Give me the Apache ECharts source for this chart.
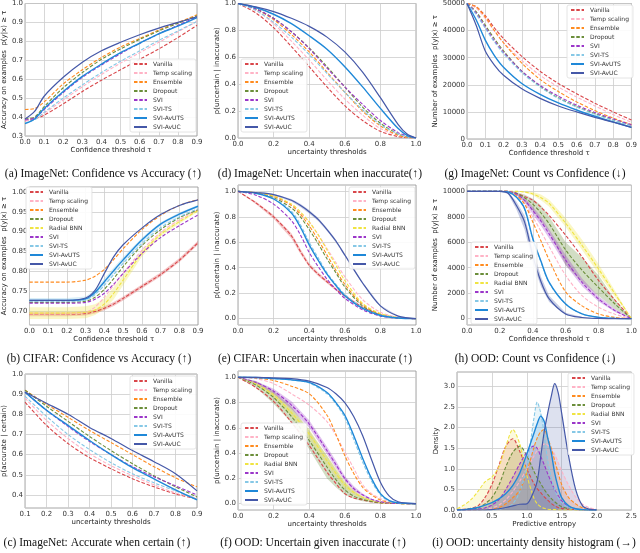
<!DOCTYPE html>
<html>
<head>
<meta charset="utf-8">
<title>Uncertainty calibration panels</title>
<script src="https://cdn.jsdelivr.net/npm/echarts@6/dist/echarts.min.js"></script>
<style>
  html, body { margin: 0; padding: 0; background: #fff; }
  #chart { width: 640px; height: 553px; }
</style>
</head>
<body>
<div id="chart"></div>
<script>
// ---------- data ----------

// tick labels
const ticks0to09 = [0, 0.1, 0.2, 0.3, 0.4, 0.5, 0.6, 0.7, 0.8, 0.9];
const ticks0to1 = [0, 0.2, 0.4, 0.6, 0.8, 1.0];
const ticks01to09 = [0.1, 0.2, 0.3, 0.4, 0.5, 0.6, 0.7, 0.8, 0.9];
const ticksAccA = [0.3, 0.4, 0.5, 0.6, 0.7, 0.8, 0.9, 1.0];
const ticksAccB = [0.70, 0.75, 0.80, 0.85, 0.90, 0.95, 1.00];
const ticksAccC = [0.4, 0.5, 0.6, 0.7, 0.8, 0.9, 1.0];
const ticksCountG = [0, 10000, 20000, 30000, 40000, 50000];
const ticksCountH = [0, 2000, 4000, 6000, 8000, 10000];
const ticksEntropy = [0, 0.5, 1.0, 1.5, 2.0, 2.5];
const ticksDensity = [0, 0.5, 1.0, 1.5, 2.0, 2.5, 3.0];

// (a) ImageNet: confidence vs accuracy
const aX = [0, 0.05, 0.1, 0.2, 0.3, 0.4, 0.5, 0.6, 0.7, 0.8, 0.9];
const aVanilla = [0.38, 0.39, 0.41, 0.47, 0.535, 0.595, 0.65, 0.705, 0.76, 0.82, 0.885];
const aTemp = [0.38, 0.39, 0.42, 0.49, 0.56, 0.625, 0.685, 0.74, 0.795, 0.85, 0.905];
const aEnsemble = [0.44, 0.445, 0.48, 0.575, 0.65, 0.715, 0.77, 0.815, 0.86, 0.90, 0.94];
const aDropout = [0.39, 0.40, 0.455, 0.555, 0.635, 0.705, 0.76, 0.81, 0.855, 0.895, 0.935];
const aSvi = [0.385, 0.395, 0.44, 0.53, 0.61, 0.675, 0.735, 0.79, 0.84, 0.885, 0.93];
const aSviTs = [0.37, 0.385, 0.425, 0.50, 0.57, 0.635, 0.695, 0.75, 0.805, 0.855, 0.905];
const aAvuts = [0.365, 0.39, 0.445, 0.535, 0.615, 0.68, 0.74, 0.79, 0.84, 0.88, 0.925];
const aAvuc = [0.39, 0.43, 0.51, 0.61, 0.69, 0.75, 0.795, 0.835, 0.87, 0.90, 0.93];

// (d) ImageNet: uncertain when inaccurate
const dX = [0, 0.1, 0.2, 0.3, 0.4, 0.5, 0.6, 0.7, 0.8, 0.9, 0.95, 1.0];
const dVanilla = [1, 0.93, 0.82, 0.68, 0.53, 0.38, 0.24, 0.13, 0.05, 0.01, 0.003, 0];
const dTemp = [1, 0.95, 0.85, 0.72, 0.58, 0.43, 0.29, 0.17, 0.07, 0.02, 0.005, 0];
const dEnsemble = [1, 0.96, 0.88, 0.77, 0.64, 0.49, 0.34, 0.20, 0.09, 0.02, 0.005, 0];
const dDropout = [1, 0.96, 0.89, 0.79, 0.67, 0.53, 0.38, 0.23, 0.11, 0.03, 0.01, 0];
const dSvi = [1, 0.96, 0.89, 0.79, 0.665, 0.52, 0.38, 0.25, 0.13, 0.04, 0.015, 0];
const dSviTs = [1, 0.95, 0.86, 0.75, 0.62, 0.48, 0.34, 0.21, 0.10, 0.03, 0.01, 0];
const dAvuts = [1, 0.97, 0.92, 0.85, 0.76, 0.66, 0.53, 0.38, 0.22, 0.07, 0.02, 0];
const dAvuc = [1, 0.975, 0.94, 0.89, 0.83, 0.75, 0.64, 0.49, 0.30, 0.10, 0.03, 0];

// (g) ImageNet: count vs confidence
const gX = [0, 0.05, 0.1, 0.15, 0.2, 0.3, 0.4, 0.5, 0.6, 0.7, 0.8, 0.9];
const gVanilla = [50000, 48800, 45500, 41000, 37000, 30500, 25000, 20500, 16700, 13200, 10000, 7000];
const gTemp = [50000, 48300, 44500, 39800, 35500, 29000, 23500, 19200, 15500, 12200, 9000, 6200];
const gEnsemble = [50000, 48800, 45000, 40000, 35500, 28000, 22000, 17500, 13700, 10500, 7700, 5300];
const gDropout = [50000, 47000, 42000, 37000, 32500, 25000, 19500, 15200, 12000, 9400, 7000, 5000];
const gSvi = [50000, 46500, 41300, 36300, 32000, 25000, 19800, 15800, 12500, 9800, 7400, 5200];
const gSviTs = [50000, 46000, 40800, 35800, 31500, 24500, 19200, 15000, 11800, 9100, 6900, 4900];
const gAvuts = [50000, 44000, 36500, 30800, 26500, 20500, 16500, 13300, 10700, 8400, 6300, 4300];
const gAvuc = [50000, 42000, 32500, 27300, 23500, 18500, 15000, 12200, 10000, 8000, 6200, 4300];

// (b) CIFAR: confidence vs accuracy
const bX = [0, 0.1, 0.2, 0.3, 0.35, 0.4, 0.45, 0.5, 0.6, 0.7, 0.8, 0.9];
const bVanilla = [0.692, 0.692, 0.692, 0.694, 0.699, 0.707, 0.718, 0.732, 0.762, 0.792, 0.828, 0.872];
const bTemp = [0.693, 0.693, 0.693, 0.697, 0.71, 0.735, 0.765, 0.795, 0.853, 0.898, 0.93, 0.955];
const bEnsemble = [0.773, 0.773, 0.773, 0.778, 0.788, 0.805, 0.83, 0.857, 0.905, 0.941, 0.966, 0.981];
const bDropout = [0.722, 0.722, 0.722, 0.725, 0.735, 0.755, 0.782, 0.812, 0.865, 0.905, 0.935, 0.955];
const bRadial = [0.695, 0.695, 0.695, 0.697, 0.703, 0.718, 0.745, 0.778, 0.845, 0.893, 0.925, 0.953];
const bSvi = [0.72, 0.72, 0.72, 0.722, 0.73, 0.745, 0.768, 0.795, 0.845, 0.885, 0.915, 0.942];
const bSviTs = [0.725, 0.725, 0.725, 0.728, 0.742, 0.765, 0.792, 0.82, 0.87, 0.91, 0.937, 0.958];
const bAvuts = [0.727, 0.727, 0.727, 0.731, 0.747, 0.774, 0.802, 0.829, 0.879, 0.919, 0.944, 0.964];
const bAvuc = [0.727, 0.727, 0.727, 0.733, 0.752, 0.795, 0.837, 0.867, 0.909, 0.943, 0.966, 0.98];
const bVanillaLo = [0.687, 0.687, 0.687, 0.689, 0.694, 0.702, 0.713, 0.727, 0.757, 0.787, 0.823, 0.867];
const bVanillaHi = [0.697, 0.697, 0.697, 0.699, 0.704, 0.712, 0.723, 0.737, 0.767, 0.797, 0.833, 0.877];
const bRadialLo = [0.68, 0.68, 0.68, 0.682, 0.69, 0.705, 0.73, 0.765, 0.837, 0.888, 0.92, 0.95];
const bRadialHi = [0.71, 0.71, 0.71, 0.712, 0.717, 0.732, 0.76, 0.79, 0.853, 0.898, 0.93, 0.956];
const bAvutsLo = [0.721, 0.721, 0.721, 0.725, 0.74, 0.766, 0.794, 0.822, 0.873, 0.914, 0.94, 0.961];
const bAvutsHi = [0.733, 0.733, 0.733, 0.737, 0.754, 0.782, 0.81, 0.836, 0.885, 0.924, 0.948, 0.967];

// (e) CIFAR: uncertain when inaccurate
const eX = [0, 0.1, 0.2, 0.3, 0.35, 0.4, 0.45, 0.5, 0.55, 0.6, 0.7, 0.8, 0.9, 1.0];
const eVanilla = [1.0, 0.91, 0.80, 0.65, 0.53, 0.42, 0.35, 0.29, 0.23, 0.18, 0.09, 0.03, 0.005, 0];
const eTemp = [1.0, 0.985, 0.96, 0.89, 0.83, 0.76, 0.66, 0.55, 0.44, 0.33, 0.15, 0.05, 0.01, 0];
const eEnsemble = [1.0, 0.99, 0.96, 0.89, 0.82, 0.73, 0.62, 0.50, 0.38, 0.27, 0.11, 0.035, 0.007, 0];
const eDropout = [1.0, 0.985, 0.95, 0.87, 0.80, 0.70, 0.59, 0.47, 0.36, 0.25, 0.10, 0.03, 0.005, 0];
const eRadial = [1.0, 0.99, 0.965, 0.90, 0.84, 0.76, 0.66, 0.54, 0.42, 0.30, 0.12, 0.04, 0.008, 0];
const eSvi = [1.0, 0.97, 0.90, 0.77, 0.66, 0.52, 0.41, 0.31, 0.23, 0.16, 0.07, 0.02, 0.005, 0];
const eSviTs = [1.0, 0.985, 0.945, 0.845, 0.74, 0.60, 0.48, 0.36, 0.27, 0.19, 0.085, 0.028, 0.006, 0];
const eAvuts = [1.0, 0.985, 0.94, 0.83, 0.72, 0.58, 0.46, 0.35, 0.26, 0.18, 0.08, 0.025, 0.005, 0];
const eAvuc = [1.0, 0.99, 0.975, 0.93, 0.89, 0.84, 0.78, 0.70, 0.61, 0.50, 0.28, 0.10, 0.02, 0];
const eVanillaLo = [1.0, 0.90, 0.785, 0.63, 0.51, 0.405, 0.335, 0.278, 0.22, 0.172, 0.085, 0.027, 0.004, 0];
const eVanillaHi = [1.0, 0.92, 0.815, 0.67, 0.55, 0.435, 0.365, 0.302, 0.24, 0.188, 0.095, 0.033, 0.006, 0];
const eAvucLo = [1.0, 0.985, 0.968, 0.92, 0.878, 0.827, 0.767, 0.688, 0.598, 0.49, 0.272, 0.095, 0.018, 0];
const eAvucHi = [1.0, 0.995, 0.982, 0.94, 0.902, 0.853, 0.793, 0.712, 0.622, 0.51, 0.288, 0.105, 0.022, 0];

// (h) OOD: count vs confidence
const hX = [0, 0.2, 0.25, 0.3, 0.35, 0.4, 0.45, 0.5, 0.6, 0.7, 0.8, 0.9, 1.0];
const hVanilla = [10000, 10000, 10000, 9850, 9600, 9300, 8750, 8100, 6550, 4850, 3000, 1450, 0];
const hTemp = [10000, 10000, 9950, 9700, 9050, 8000, 6850, 5650, 3400, 1800, 900, 350, 0];
const hEnsemble = [10000, 10000, 9950, 9700, 9000, 7600, 6100, 4600, 2100, 1000, 370, 90, 0];
const hDropout = [10000, 10000, 10000, 9850, 9500, 9000, 8300, 7450, 5400, 3800, 2450, 1150, 0];
const hRadial = [10000, 10000, 10000, 10000, 9950, 9800, 9500, 9050, 7500, 5750, 3900, 1950, 0];
const hSvi = [10000, 10000, 10000, 9800, 9300, 8500, 7650, 6650, 4600, 2850, 1550, 630, 0];
const hSviTs = [10000, 10000, 9950, 9550, 8600, 6250, 4450, 2800, 1150, 370, 100, 20, 0];
const hAvuts = [10000, 10000, 9950, 9550, 8650, 6300, 4500, 2850, 1150, 370, 100, 20, 0];
const hAvuc = [10000, 10000, 9850, 8900, 7600, 4950, 2900, 1550, 370, 90, 20, 5, 0];
const hDropoutLo = [10000, 10000, 10000, 9750, 9200, 8500, 7700, 6800, 4200, 2850, 1800, 750, 0];
const hDropoutHi = [10000, 10000, 10000, 9950, 9750, 9420, 8900, 8000, 6000, 4800, 3400, 1500, 0];
const hRadialLo = [10000, 10000, 10000, 10000, 9900, 9700, 9300, 8800, 7200, 5400, 3500, 1700, 0];
const hRadialHi = [10000, 10000, 10000, 10000, 10000, 9950, 9750, 9350, 7900, 6200, 4300, 2200, 0];
const hSviLo = [10000, 10000, 10000, 9700, 9100, 8200, 7300, 6300, 4200, 2550, 1350, 520, 0];
const hSviHi = [10000, 10000, 10000, 9900, 9500, 8800, 8000, 7000, 5000, 3150, 1750, 750, 0];
const hAvucLo = [10000, 10000, 9800, 8600, 7000, 4400, 2500, 1300, 280, 60, 15, 5, 0];
const hAvucHi = [10000, 10000, 9950, 9200, 8100, 5500, 3300, 1800, 460, 120, 25, 5, 0];

// (c) ImageNet: accurate when certain
const cX = [0.1, 0.2, 0.3, 0.4, 0.5, 0.6, 0.7, 0.8, 0.9];
const cVanilla = [0.86, 0.745, 0.655, 0.585, 0.53, 0.48, 0.44, 0.405, 0.38];
const cTemp = [0.88, 0.77, 0.68, 0.605, 0.545, 0.495, 0.45, 0.41, 0.385];
const cEnsemble = [0.92, 0.85, 0.785, 0.72, 0.66, 0.60, 0.54, 0.485, 0.44];
const cDropout = [0.92, 0.84, 0.765, 0.69, 0.62, 0.555, 0.495, 0.44, 0.39];
const cSvi = [0.91, 0.82, 0.74, 0.665, 0.60, 0.54, 0.49, 0.445, 0.40];
const cSviTs = [0.89, 0.79, 0.70, 0.625, 0.56, 0.505, 0.46, 0.42, 0.38];
const cAvuts = [0.91, 0.82, 0.745, 0.67, 0.60, 0.535, 0.48, 0.425, 0.375];
const cAvuc = [0.91, 0.855, 0.80, 0.735, 0.68, 0.62, 0.565, 0.505, 0.42];

// (f) OOD: uncertain given inaccurate
const fX = [0, 0.1, 0.2, 0.3, 0.4, 0.5, 0.55, 0.6, 0.65, 0.7, 0.75, 0.8, 0.85, 0.9, 1.0];
const fVanilla = [1, 0.92, 0.81, 0.645, 0.46, 0.25, 0.16, 0.08, 0.045, 0.03, 0.015, 0.006, 0.002, 0.001, 0];
const fTemp = [1, 0.99, 0.95, 0.87, 0.78, 0.65, 0.54, 0.41, 0.28, 0.15, 0.08, 0.04, 0.015, 0.005, 0];
const fEnsemble = [1, 0.995, 0.975, 0.93, 0.87, 0.70, 0.55, 0.38, 0.24, 0.13, 0.07, 0.03, 0.01, 0.004, 0];
const fDropout = [1, 0.94, 0.84, 0.69, 0.50, 0.29, 0.19, 0.11, 0.06, 0.035, 0.018, 0.008, 0.003, 0.001, 0];
const fRadial = [1, 0.95, 0.86, 0.72, 0.55, 0.34, 0.24, 0.15, 0.09, 0.05, 0.025, 0.01, 0.004, 0.001, 0];
const fSvi = [1, 0.96, 0.89, 0.78, 0.63, 0.42, 0.31, 0.20, 0.12, 0.07, 0.035, 0.015, 0.005, 0.002, 0];
const fSviTs = [1, 0.998, 0.99, 0.98, 0.955, 0.87, 0.79, 0.68, 0.51, 0.33, 0.18, 0.07, 0.02, 0.006, 0];
const fAvuts = [1, 0.998, 0.99, 0.98, 0.96, 0.88, 0.80, 0.70, 0.54, 0.36, 0.20, 0.08, 0.025, 0.007, 0];
const fAvuc = [1, 1, 0.995, 0.99, 0.97, 0.92, 0.87, 0.80, 0.69, 0.54, 0.35, 0.17, 0.06, 0.015, 0];
const fDropoutLo = [1, 0.92, 0.79, 0.64, 0.43, 0.20, 0.13, 0.07, 0.04, 0.02, 0.01, 0.005, 0.002, 0.001, 0];
const fDropoutHi = [1, 0.97, 0.89, 0.77, 0.58, 0.38, 0.27, 0.17, 0.10, 0.055, 0.03, 0.012, 0.005, 0.002, 0];
const fRadialLo = [1, 0.94, 0.84, 0.69, 0.51, 0.30, 0.21, 0.12, 0.07, 0.04, 0.02, 0.008, 0.003, 0.001, 0];
const fRadialHi = [1, 0.96, 0.88, 0.75, 0.59, 0.38, 0.28, 0.18, 0.11, 0.06, 0.03, 0.012, 0.005, 0.002, 0];
const fSviLo = [1, 0.95, 0.87, 0.75, 0.60, 0.39, 0.28, 0.18, 0.10, 0.06, 0.03, 0.012, 0.004, 0.002, 0];
const fSviHi = [1, 0.97, 0.91, 0.81, 0.66, 0.45, 0.34, 0.22, 0.14, 0.08, 0.04, 0.018, 0.006, 0.003, 0];

// (i) OOD: predictive entropy density
const iX = [0, 0.1, 0.2, 0.3, 0.4, 0.5, 0.6, 0.7, 0.8, 0.9, 1.0, 1.1, 1.15, 1.2, 1.25, 1.3, 1.35, 1.4, 1.45, 1.5, 1.6, 1.7, 1.8, 1.9, 2.0];
const iVanilla = [0.01, 0.02, 0.04, 0.1, 0.3, 0.62, 1.08, 1.55, 1.73, 1.42, 1.0, 0.65, 0.52, 0.42, 0.32, 0.24, 0.16, 0.1, 0.06, 0.04, 0.02, 0.01, 0, 0, 0];
const iTemp = [0, 0, 0, 0.01, 0.02, 0.05, 0.12, 0.25, 0.45, 0.7, 1.0, 1.3, 1.45, 1.55, 1.6, 1.58, 1.5, 1.35, 1.15, 0.95, 0.6, 0.32, 0.14, 0.05, 0.02];
const iEnsemble = [0, 0, 0, 0, 0.01, 0.02, 0.06, 0.15, 0.3, 0.48, 0.92, 1.5, 1.75, 1.9, 1.95, 1.75, 1.5, 1.2, 0.9, 0.62, 0.3, 0.15, 0.05, 0.01, 0];
const iDropout = [0, 0.01, 0.02, 0.05, 0.15, 0.3, 0.6, 1.05, 1.4, 1.55, 1.32, 0.95, 0.78, 0.64, 0.5, 0.38, 0.28, 0.2, 0.13, 0.08, 0.03, 0.01, 0, 0, 0];
const iRadial = [0.03, 0.12, 0.25, 0.45, 0.68, 0.8, 1.05, 1.55, 1.95, 1.6, 0.85, 0.3, 0.15, 0.08, 0.04, 0.02, 0.01, 0.01, 0, 0, 0, 0, 0, 0, 0];
const iSvi = [0, 0, 0.01, 0.02, 0.05, 0.12, 0.25, 0.5, 0.8, 1.12, 1.4, 1.55, 1.5, 1.3, 1.1, 0.88, 0.68, 0.5, 0.35, 0.22, 0.08, 0.02, 0.01, 0, 0];
const iSviTs = [0, 0, 0, 0, 0, 0, 0.02, 0.06, 0.15, 0.45, 1.05, 2.2, 2.62, 2.35, 1.85, 1.2, 0.8, 0.5, 0.3, 0.18, 0.06, 0.02, 0, 0, 0];
const iAvuts = [0, 0.01, 0.03, 0.06, 0.12, 0.18, 0.27, 0.4, 0.6, 0.9, 1.36, 1.85, 2.1, 2.28, 2.15, 1.75, 1.4, 0.9, 0.55, 0.3, 0.1, 0.03, 0.01, 0, 0];
const iAvuc = [0, 0, 0, 0, 0, 0.01, 0.03, 0.06, 0.1, 0.14, 0.15, 0.45, 0.7, 1.3, 1.9, 2.35, 2.75, 3.07, 2.85, 2.35, 1.3, 0.5, 0.1, 0.02, 0];

const captions = [
  '(a) ImageNet: Confidence vs Accuracy (↑)',
  '(d) ImageNet: Uncertain when inaccurate(↑)',
  '(g) ImageNet: Count vs Confidence (↓)',
  '(b) CIFAR: Confidence vs Accuracy (↑)',
  '(e) CIFAR: Uncertain when inaccurate (↑)',
  '(h) OOD: Count vs Confidence (↓)',
  '(c) ImageNet: Accurate when certain (↑)',
  '(f) OOD: Uncertain given inaccurate (↑)',
  '(i) OOD: uncertainty density histogram (→)'
];

// ---------- styles ----------
const methodStyle = {
  'Vanilla':      { color: '#d9464a', dash: [3.5, 1.8], width: 1.1 },
  'Temp scaling': { color: '#ffb3c6', dash: [3.5, 1.8], width: 1.1 },
  'Ensemble':     { color: '#ff8b1f', dash: [3.5, 1.8], width: 1.1 },
  'Dropout':      { color: '#6b8e3a', dash: [3.5, 1.8], width: 1.1 },
  'Radial BNN':   { color: '#f0e442', dash: [3.5, 1.8], width: 1.1 },
  'SVI':          { color: '#9b36c9', dash: [3.5, 1.8], width: 1.1 },
  'SVI-TS':       { color: '#86c8e6', dash: [3.5, 1.8], width: 1.1 },
  'SVI-AvUTS':    { color: '#1f88d8', dash: 'solid', width: 1.4 },
  'SVI-AvUC':     { color: '#4558a8', dash: 'solid', width: 1.2 }
};
const FONT = 'DejaVu Sans';

const panels = [
  { grid: { left: 18, top: 3, width: 179, height: 133 },
    x: [0, 0.9], xt: ticks0to09, xd: 1, xname: 'Confidence threshold τ', xgap: 11,
    y: [0.3, 1.0], yt: ticksAccA, yd: 1, yname: 'Accuracy on examples  p(y|x) ≥ τ', ygap: 11,
    legend: { left: 130, top: 59 }, cap: [103, 174], xs: aX,
    lines: [['Vanilla', aVanilla], ['Temp scaling', aTemp], ['Ensemble', aEnsemble], ['Dropout', aDropout],
            ['SVI', aSvi], ['SVI-TS', aSviTs], ['SVI-AvUTS', aAvuts], ['SVI-AvUC', aAvuc]], bands: [] },
  { grid: { left: 238, top: 3, width: 178, height: 135 },
    x: [0, 1], xt: ticks0to1, xd: 1, xname: 'uncertainty thresholds', xgap: 9,
    y: [0, 1], yt: ticks0to1, yd: 1, yname: 'p(uncertain | inaccurate)', ygap: 14,
    legend: { left: 241, top: 59 }, cap: [320, 174], xs: dX,
    lines: [['Vanilla', dVanilla], ['Temp scaling', dTemp], ['Ensemble', dEnsemble], ['Dropout', dDropout],
            ['SVI', dSvi], ['SVI-TS', dSviTs], ['SVI-AvUTS', dAvuts], ['SVI-AvUC', dAvuc]], bands: [] },
  { grid: { left: 467, top: 2, width: 167, height: 137 },
    x: [0, 0.9], xt: ticks0to09, xd: 1, xname: 'Confidence threshold τ', xgap: 8,
    y: [0, 50000], yt: ticksCountG, yd: 0, yname: 'Number of examples  p(y|x) ≥ τ', ygap: 24,
    legend: { left: 567, top: 5 }, cap: [535, 174], xs: gX,
    lines: [['Vanilla', gVanilla], ['Temp scaling', gTemp], ['Ensemble', gEnsemble], ['Dropout', gDropout],
            ['SVI', gSvi], ['SVI-TS', gSviTs], ['SVI-AvUTS', gAvuts], ['SVI-AvUC', gAvuc]], bands: [] },
  { grid: { left: 23, top: 187, width: 175, height: 138 },
    x: [0, 0.9], xt: ticks0to09, xd: 1, xname: 'Confidence threshold τ', xgap: 8,
    y: [0.665, 1.0125], yt: ticksAccB, yd: 2, yname: 'Accuracy on examples  p(y|x) ≥ τ', ygap: 17,
    legend: { left: 26, top: 187 }, cap: [99, 359], xs: bX,
    lines: [['Vanilla', bVanilla], ['Temp scaling', bTemp], ['Ensemble', bEnsemble], ['Dropout', bDropout],
            ['Radial BNN', bRadial], ['SVI', bSvi], ['SVI-TS', bSviTs], ['SVI-AvUTS', bAvuts], ['SVI-AvUC', bAvuc]],
    bands: [['Vanilla', bVanillaLo, bVanillaHi], ['Radial BNN', bRadialLo, bRadialHi], ['SVI-TS', bAvutsLo, bAvutsHi]] },
  { grid: { left: 238, top: 185, width: 178, height: 140 },
    x: [0, 1], xt: ticks0to1, xd: 1, xname: 'uncertainty thresholds', xgap: 8,
    y: [-0.05, 1.05], yt: ticks0to1, yd: 1, yname: 'p(uncertain | inaccurate)', ygap: 15,
    legend: { left: 349, top: 187 }, cap: [315, 359], xs: eX,
    lines: [['Vanilla', eVanilla], ['Temp scaling', eTemp], ['Ensemble', eEnsemble], ['Dropout', eDropout],
            ['Radial BNN', eRadial], ['SVI', eSvi], ['SVI-TS', eSviTs], ['SVI-AvUTS', eAvuts], ['SVI-AvUC', eAvuc]],
    bands: [['Vanilla', eVanillaLo, eVanillaHi], ['SVI-AvUC', eAvucLo, eAvucHi]] },
  { grid: { left: 467, top: 185, width: 167, height: 140 },
    x: [0, 1], xt: ticks0to1, xd: 1, xname: 'Confidence threshold τ', xgap: 8,
    y: [-500, 10500], yt: ticksCountH, yd: 0, yname: 'Number of examples  p(y|x) ≥ τ', ygap: 25,
    legend: { left: 471, top: 242 }, cap: [535, 359], xs: hX,
    lines: [['Vanilla', hVanilla], ['Temp scaling', hTemp], ['Ensemble', hEnsemble], ['Dropout', hDropout],
            ['Radial BNN', hRadial], ['SVI', hSvi], ['SVI-TS', hSviTs], ['SVI-AvUTS', hAvuts], ['SVI-AvUC', hAvuc]],
    bands: [['Dropout', hDropoutLo, hDropoutHi], ['Radial BNN', hRadialLo, hRadialHi],
            ['SVI', hSviLo, hSviHi], ['SVI-AvUC', hAvucLo, hAvucHi]] },
  { grid: { left: 21, top: 374, width: 176, height: 134 },
    x: [0.1, 0.9], xt: ticks01to09, xd: 1, xname: 'uncertainty thresholds', xgap: 11,
    y: [0.335, 1.0], yt: ticksAccC, yd: 1, yname: 'p(accurate | certain)', ygap: 16,
    legend: { left: 130, top: 376 }, cap: [97, 543], xs: cX,
    lines: [['Vanilla', cVanilla], ['Temp scaling', cTemp], ['Ensemble', cEnsemble], ['Dropout', cDropout],
            ['SVI', cSvi], ['SVI-TS', cSviTs], ['SVI-AvUTS', cAvuts], ['SVI-AvUC', cAvuc]], bands: [] },
  { grid: { left: 238, top: 371, width: 178, height: 139 },
    x: [0, 1], xt: ticks0to1, xd: 1, xname: 'uncertainty thresholds', xgap: 8,
    y: [-0.05, 1.05], yt: ticks0to1, yd: 1, yname: 'p(uncertain | inaccurate)', ygap: 15,
    legend: { left: 241, top: 423 }, cap: [313, 543], xs: fX,
    lines: [['Vanilla', fVanilla], ['Temp scaling', fTemp], ['Ensemble', fEnsemble], ['Dropout', fDropout],
            ['Radial BNN', fRadial], ['SVI', fSvi], ['SVI-TS', fSviTs], ['SVI-AvUTS', fAvuts], ['SVI-AvUC', fAvuc]],
    bands: [['Dropout', fDropoutLo, fDropoutHi], ['Radial BNN', fRadialLo, fRadialHi], ['SVI', fSviLo, fSviHi]] },
  { grid: { left: 457, top: 372, width: 177, height: 138 },
    x: [0, 2.5], xt: ticksEntropy, xd: 1, xname: 'Predictive entropy', xgap: 10,
    y: [0, 3.35], yt: ticksDensity, yd: 1, yname: 'Density', ygap: 14,
    legend: { left: 568, top: 373 }, cap: [534, 543], xs: iX, fill: true,
    lines: [['Vanilla', iVanilla], ['Temp scaling', iTemp], ['Ensemble', iEnsemble], ['Dropout', iDropout],
            ['Radial BNN', iRadial], ['SVI', iSvi], ['SVI-TS', iSviTs], ['SVI-AvUTS', iAvuts], ['SVI-AvUC', iAvuc]], bands: [] }
];

// ---------- build option ----------
const grids = [], xAxes = [], yAxes = [], series = [], legends = [], graphics = [];

function axisCfg(i, range, ticks, digits, name, gap, isY) {
  return {
    type: 'value', gridIndex: i, min: range[0], max: range[1],
    name: name, nameLocation: 'middle', nameGap: gap,
    nameTextStyle: { fontSize: 7, color: '#222', fontFamily: FONT },
    axisLine: { show: false },
    axisTick: { show: false, customValues: ticks },
    axisLabel: { customValues: ticks, fontSize: 7, color: '#333', fontFamily: FONT, margin: isY ? 2 : 3,
                 formatter: v => Number(v).toFixed(digits) },
    splitLine: { show: true, lineStyle: { color: '#cdcdcd', width: 0.8 } }
  };
}

panels.forEach((p, i) => {
  grids.push(Object.assign({ show: true, borderColor: '#8f8f8f', borderWidth: 0.8, backgroundColor: '#fff' }, p.grid));
  xAxes.push(axisCfg(i, p.x, p.xt, p.xd, p.xname, p.xgap, false));
  yAxes.push(axisCfg(i, p.y, p.yt, p.yd, p.yname, p.ygap, true));

  // shaded spread bands, drawn as one polygon through the axes' scales
  p.bands.forEach(([name, lo, hi]) => {
    const col = methodStyle[name].color;
    const xs = p.xs;
    series.push({
      type: 'custom', xAxisIndex: i, yAxisIndex: i, silent: true, z: 1,
      data: xs.map((x, j) => [x, lo[j], hi[j]]),
      encode: { x: 0, y: [1, 2] },
      renderItem: (params, api) => {
        if (params.dataIndex !== 0) return null;
        const upper = xs.map((x, j) => api.coord([x, hi[j]]));
        const lower = xs.map((x, j) => api.coord([x, lo[j]])).reverse();
        return { type: 'polygon', shape: { points: upper.concat(lower) },
                 style: { fill: col, opacity: 0.3 } };
      }
    });
  });

  p.lines.forEach(([name, ys]) => {
    const st = methodStyle[name];
    const s = {
      type: 'line', name: name, xAxisIndex: i, yAxisIndex: i,
      data: p.xs.map((x, j) => [x, ys[j]]), symbol: 'none', smooth: 0.3,
      lineStyle: { color: st.color, width: st.width, type: st.dash },
      itemStyle: { color: st.color }, z: 3
    };
    if (p.fill) s.areaStyle = { color: st.color, opacity: 0.18 };
    series.push(s);
  });

  legends.push({
    left: p.legend.left, top: p.legend.top, orient: 'vertical', selectedMode: false,
    itemWidth: 13, itemHeight: 6, itemGap: 3, padding: [2, 4, 2, 3],
    backgroundColor: 'rgba(255,255,255,0.9)', borderColor: '#dddddd', borderWidth: 0.8, borderRadius: 2,
    itemStyle: { opacity: 0, borderWidth: 0 },
    textStyle: { fontSize: 6, lineHeight: 6, color: '#333', fontFamily: FONT, padding: [0, 0, 0, 1] },
    data: p.lines.map(l => l[0])
  });

  graphics.push({
    type: 'text', x: p.cap[0], y: p.cap[1], silent: true,
    style: { text: captions[i], fill: '#111', font: '11.5px "Liberation Serif", "DejaVu Serif", serif',
             align: 'center', verticalAlign: 'middle' }
  });
});

const chart = echarts.init(document.getElementById('chart'));
chart.setOption({
  animation: false,
  backgroundColor: '#fff',
  grid: grids,
  xAxis: xAxes,
  yAxis: yAxes,
  legend: legends,
  series: series,
  graphic: graphics
});
</script>
</body>
</html>
